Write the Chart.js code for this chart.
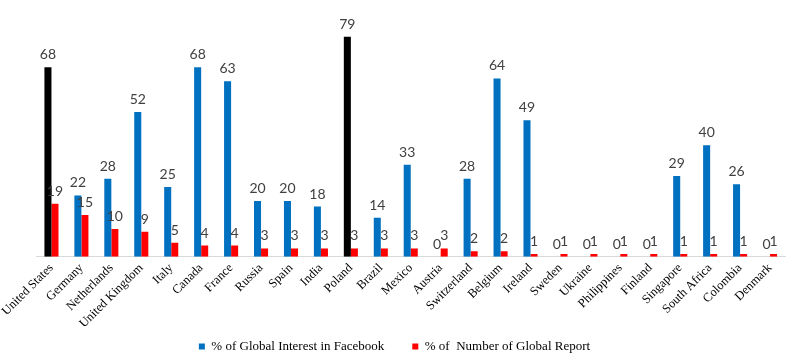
<!DOCTYPE html>
<html>
<head>
<meta charset="utf-8">
<script src="https://cdn.jsdelivr.net/npm/chart.js@4"></script>
<style>
  html, body { margin: 0; padding: 0; background: #fff; }
  #wrap { width: 794px; height: 364px; }
</style>
</head>
<body>
<div id="wrap"><canvas id="chart"></canvas></div>
<script>
// --- DATA ---
const countries = ['United States', 'Germany', 'Netherlands', 'United Kingdom', 'Italy', 'Canada', 'France',
  'Russia', 'Spain', 'India', 'Poland', 'Brazil', 'Mexico', 'Austria', 'Switzerland', 'Belgium', 'Ireland',
  'Sweden', 'Ukraine', 'Philippines', 'Finland', 'Singapore', 'South Africa', 'Colombia', 'Denmark'];
const interestValues = [68, 22, 28, 52, 25, 68, 63, 20, 20, 18, 79, 14, 33, 0, 28, 64, 49, 0, 0, 0, 0, 29, 40, 26, 0];
const reportValues = [19, 15, 10, 9, 5, 4, 4, 3, 3, 3, 3, 3, 3, 3, 2, 2, 1, 1, 1, 1, 1, 1, 1, 1, 1];
const highlighted = ['United States', 'Poland'];

// --- STYLE ---
const BLUE = '#0070C0';
const RED = '#FF0000';
const serif = "'Liberation Serif', 'DejaVu Serif', serif";
const LEGEND_SHRINK = 28;   // legend box is shorter than chart.js makes it
const LEGEND_LIFT = 23;

const interestColors = countries.map(c => highlighted.includes(c) ? '#000000' : BLUE);

// draws the number above every bar
const valueLabels = {
  id: 'valueLabels',
  afterDatasetsDraw(chart) {
    const ctx = chart.ctx;
    ctx.save();
    ctx.font = '14px Lato, sans-serif';
    ctx.fillStyle = '#404040';
    ctx.textAlign = 'center';
    ctx.textBaseline = 'alphabetic';
    chart.data.datasets.forEach((ds, i) => {
      chart.getDatasetMeta(i).data.forEach((bar, j) => {
        ctx.fillText(String(ds.data[j]), bar.x, bar.y - 8);
      });
    });
    ctx.restore();
  }
};

// give the plot the room that the legend padding would take
const legendSpace = {
  id: 'legendSpace',
  beforeInit(chart) {
    const fit = chart.legend.fit;
    chart.legend.fit = function () {
      fit.call(this);
      this.height -= LEGEND_SHRINK;
    };
  },
  afterLayout(chart) {
    chart.legend.top -= LEGEND_LIFT;
    chart.legend.bottom = chart.height;
  }
};

new Chart(document.getElementById('chart'), {
  type: 'bar',
  data: {
    labels: countries,
    datasets: [
      {
        label: '% of Global Interest in Facebook',
        data: interestValues,
        backgroundColor: interestColors,
        categoryPercentage: 0.47,
        barPercentage: 1
      },
      {
        label: '% of  Number of Global Report',
        data: reportValues,
        backgroundColor: RED,
        categoryPercentage: 0.47,
        barPercentage: 1
      }
    ]
  },
  options: {
    responsive: true,
    maintainAspectRatio: false,
    animation: false,
    layout: { padding: { left: 4, right: 9, top: 20, bottom: 6 } },
    scales: {
      x: {
        grid: { display: false, drawTicks: false },
        border: { color: '#d9d9d9', width: 1 },
        ticks: {
          autoSkip: false,
          maxRotation: 45,
          minRotation: 45,
          padding: 4,
          color: '#000',
          font: { family: serif, size: 12.5 }
        }
      },
      y: {
        display: false,
        min: 0,
        max: 85
      }
    },
    plugins: {
      legend: {
        position: 'bottom',
        labels: {
          boxWidth: 6,
          boxHeight: 6,
          padding: 28,
          color: '#000',
          font: { family: serif, size: 13 },
          generateLabels(chart) {
            return chart.data.datasets.map((ds, i) => ({
              text: ds.label,
              fillStyle: i === 0 ? BLUE : RED,
              strokeStyle: 'transparent',
              lineWidth: 0,
              datasetIndex: i
            }));
          }
        }
      },
      tooltip: { enabled: false }
    }
  },
  plugins: [valueLabels, legendSpace]
});
</script>
</body>
</html>
